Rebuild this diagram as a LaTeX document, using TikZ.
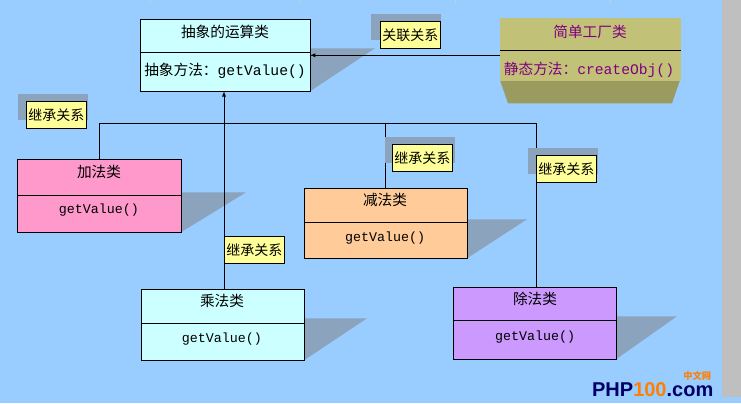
\documentclass[tikz,border=0pt]{standalone}
\usepackage{fontspec}
\setmainfont{Liberation Sans}
\newfontfamily\cjk{Noto Sans CJK SC}
\newfontfamily\code{Liberation Mono}
\usetikzlibrary{positioning}
\definecolor{sky}{HTML}{99CCFF}
\definecolor{dropgray}{HTML}{8BA3BC}
\definecolor{note}{HTML}{FFFF99}
\definecolor{olive}{HTML}{C2C178}
\definecolor{plum}{HTML}{800080}
\definecolor{pale}{HTML}{CCFFFF}
\definecolor{pink}{HTML}{FF99CC}
\definecolor{peach}{HTML}{FFCC99}
\definecolor{lilac}{HTML}{CC99FF}

\begin{document}
\begin{tikzpicture}[x=0.75pt,y=-0.75pt,
	classbox/.style={draw,line width=0.6pt,anchor=north west,inner sep=0pt},
	title/.style={font=\cjk\fontsize{11}{12}\selectfont},
	method/.style={font=\code\fontsize{10}{11}\selectfont},
	relnote/.style={draw,fill=note,font=\cjk\fontsize{10.5}{12}\selectfont,inner sep=1.5pt,minimum height=20.25pt,anchor=north west},
	relshadow/.style={fill=dropgray,anchor=north west,minimum width=52pt,minimum height=20pt,inner sep=0pt}]
	\fill[sky] (0,0) rectangle (741,403);
	\fill[black!25] (722,0) rectangle (741,397);
	\foreach \x in {150,300,455,610} \draw[black!20] (\x,0) -- (\x,3);

	% shadows
	\fill[dropgray] (310,48) -- (375,48) -- (310,91) -- cycle;
	\fill[dropgray] (181,192) -- (246,192) -- (181,232) -- cycle;
	\fill[dropgray] (467,219) -- (527,219) -- (467,258) -- cycle;
	\fill[dropgray] (304,318) -- (367,318) -- (304,360) -- cycle;
	\fill[dropgray] (616,316) -- (677,316) -- (616,359) -- cycle;

	% classes
	\node[classbox,fill=pale,minimum width=127.5pt,minimum height=54pt] (abs) at (140,19) {};
	\node[title] at (225,32) {抽象的运算类};
	\node[font=\cjk\fontsize{11}{12}\selectfont] at (225,71) {抽象方法：{\code getValue()}};
	\draw (abs.west |- 0,52) -- (abs.east |- 0,52);

	\fill[olive!80!black] (500,80) -- (680,80) -- (672,103) -- (508,103) -- cycle;
	\node[classbox,draw=olive,fill=olive,minimum width=135pt,minimum height=46.5pt] (fac) at (500,18) {};
	\node[title,text=plum] at (590,32) {简单工厂类};
	\node[font=\cjk\fontsize{11}{12}\selectfont,text=plum] at (589,70) {静态方法：{\code createObj()}};
	\draw (fac.west |- 0,50) -- (fac.east |- 0,50);

	\node[classbox,fill=pink,minimum width=123pt,minimum height=54.75pt] (add) at (17,159) {};
	\node[title] at (99,172) {加法类};
	\node[method] at (99,210) {getValue()};
	\draw (add.west |- 0,195) -- (add.east |- 0,195);

	\node[classbox,fill=peach,minimum width=122.25pt,minimum height=52.5pt] (sub) at (304,188) {};
	\node[title] at (385,200) {减法类};
	\node[method] at (385,238) {getValue()};
	\draw (sub.west |- 0,222) -- (sub.east |- 0,222);

	\node[classbox,fill=pale,minimum width=122.25pt,minimum height=53.25pt] (mul) at (141,289) {};
	\node[title] at (222,301) {乘法类};
	\node[method] at (222,339) {getValue()};
	\draw (mul.west |- 0,323) -- (mul.east |- 0,323);

	\node[classbox,fill=lilac,minimum width=122.25pt,minimum height=54pt] (div) at (453,287) {};
	\node[title] at (535,299) {除法类};
	\node[method] at (535,337) {getValue()};
	\draw (div.west |- 0,320) -- (div.east |- 0,320);

	% relations
	\coordinate (facin) at (500,55);
	\coordinate (absin) at (310,55);
	\draw[-latex] (facin) -- (absin);
	\coordinate (bar) at (99,123);
	\coordinate (absfoot) at (224,91);
	\coordinate (mulhead) at (224,289);
	\draw (add.north -| bar) -- (bar) -- (536,123) -- (div.north -| 536,0);
	\draw (385,123) -- (sub.north -| 385,0);
	\draw[-latex] (mulhead) -- (absfoot);

	% notes
	\node[relshadow] at (371,13) {};
	\node[relnote] (assoc) at (380,21) {关联关系};
	\node[relshadow] at (18,93) {};
	\node[relnote] (inh1) at (26,101) {继承关系};
	\node[relshadow] at (385,136) {};
	\node[relnote] (inh2) at (392,144) {继承关系};
	\node[relshadow] at (528,147) {};
	\node[relnote] (inh3) at (536,155) {继承关系};
	\node[relnote] (inh4) at (224,236) {继承关系};

	% watermark
	\node[font=\bfseries\fontsize{15}{16}\selectfont,anchor=south east] (mark) at (718,401) {\textcolor{blue!40!black}{PHP}\textcolor{orange}{100}\textcolor{blue!40!black}{.com}};
	\node[font=\cjk\bfseries\fontsize{7}{8}\selectfont,text=orange,anchor=south east] at (716,385) {中文网};
\end{tikzpicture}
\end{document}
